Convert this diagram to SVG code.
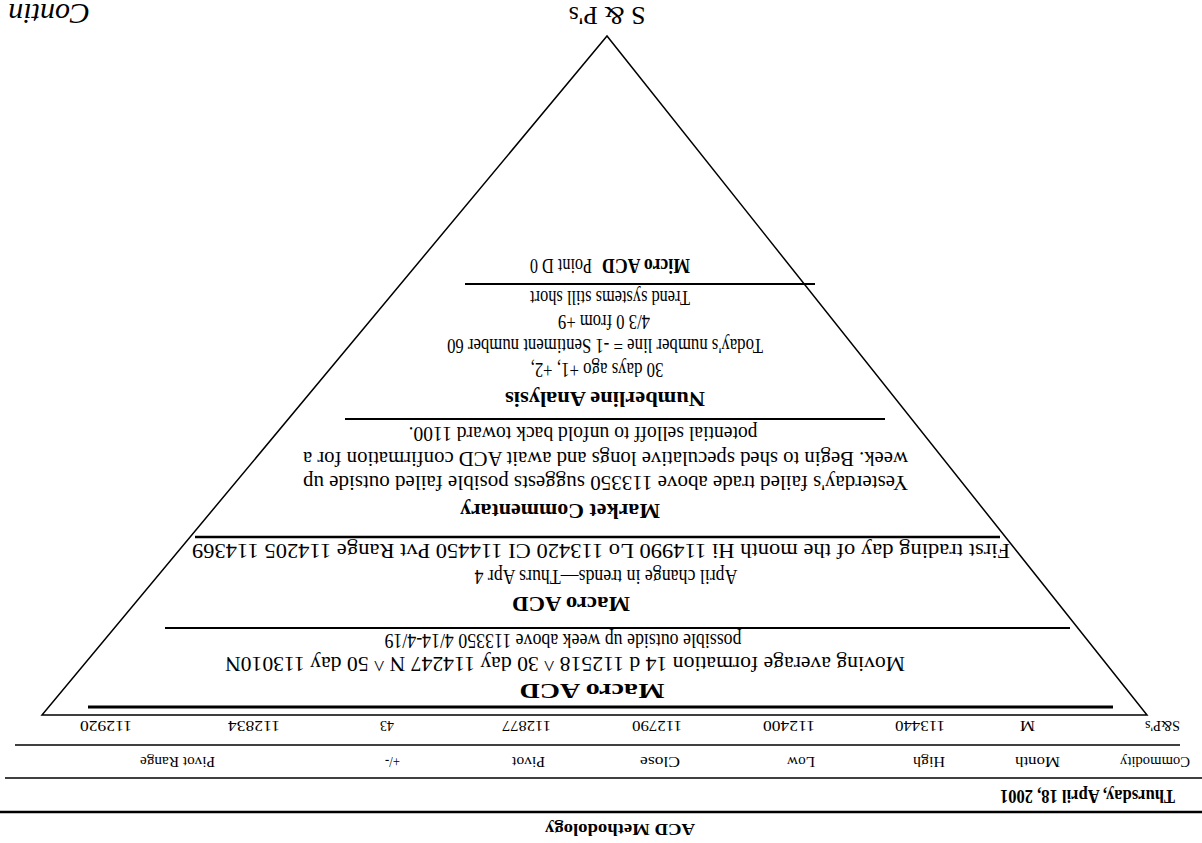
<svg xmlns="http://www.w3.org/2000/svg" width="1202" height="843" viewBox="0 0 1202 843">
<style>
text{font-family:"Liberation Serif","Times New Roman",serif;fill:#000}
.b{font-weight:bold}
.t{font-size:21px}
.h{font-size:20px;font-weight:bold}
.c{font-size:15px}
.r{stroke:#000;fill:none}
</style>
<rect width="1202" height="843" fill="#fff"/>
<g transform="rotate(180 601 421.5)">
<g id="header">
<text x="582" y="19" class="b" font-size="17" text-anchor="middle" textLength="150" lengthAdjust="spacingAndGlyphs">ACD Methodology</text>
<line x1="0" y1="31" x2="1202" y2="31" class="r" stroke-width="2.5"/>
<text x="27" y="53" class="b" font-size="19" textLength="175" lengthAdjust="spacingAndGlyphs">Thursday, April 18, 2001</text>
<line x1="0" y1="65" x2="1197" y2="65" class="r" stroke-width="1.5"/>
</g>
<g id="table">
<text class="c" x="12" y="86" textLength="70" lengthAdjust="spacingAndGlyphs">Commodity</text>
<text class="c" x="142" y="86" textLength="45" lengthAdjust="spacingAndGlyphs">Month</text>
<text class="c" x="257" y="86" textLength="32" lengthAdjust="spacingAndGlyphs">High</text>
<text class="c" x="387" y="86" textLength="28" lengthAdjust="spacingAndGlyphs">Low</text>
<text class="c" x="522" y="86" textLength="40" lengthAdjust="spacingAndGlyphs">Close</text>
<text class="c" x="657" y="86" textLength="33" lengthAdjust="spacingAndGlyphs">Pivot</text>
<text class="c" x="802" y="86" textLength="15" lengthAdjust="spacingAndGlyphs">+/-</text>
<text class="c" x="987" y="86" textLength="75" lengthAdjust="spacingAndGlyphs">Pivot Range</text>
<line x1="22" y1="98" x2="1187" y2="98" class="r" stroke-width="1.5"/>
<text class="c" x="22" y="122" textLength="35" lengthAdjust="spacingAndGlyphs">S&amp;P's</text>
<text class="c" x="167" y="122" textLength="15" lengthAdjust="spacingAndGlyphs">M</text>
<text class="c" x="257" y="122" textLength="50" lengthAdjust="spacingAndGlyphs">113440</text>
<text class="c" x="387" y="122" textLength="52" lengthAdjust="spacingAndGlyphs">112400</text>
<text class="c" x="520" y="122" textLength="50" lengthAdjust="spacingAndGlyphs">112790</text>
<text class="c" x="651" y="122" textLength="49" lengthAdjust="spacingAndGlyphs">112877</text>
<text class="c" x="808" y="122" textLength="14" lengthAdjust="spacingAndGlyphs">43</text>
<text class="c" x="922" y="122" textLength="52" lengthAdjust="spacingAndGlyphs">112834</text>
<text class="c" x="1070" y="122" textLength="52" lengthAdjust="spacingAndGlyphs">112920</text>
</g>
<g id="pyramid">
<polygon points="55,128 1160,128 595,807" class="r" stroke-width="1.5"/>
</g>
<g id="macro1">
<line x1="89" y1="136" x2="1114" y2="136" class="r" stroke-width="3"/>
<text class="h" x="610" y="159" text-anchor="middle" textLength="145" lengthAdjust="spacingAndGlyphs">Macro ACD</text>
<text class="t" x="297" y="186" textLength="680" lengthAdjust="spacingAndGlyphs">Moving average formation 14 d 112518 ^  30 day 114247 N ^  50 day 113010N</text>
<text class="t" x="639" y="209" text-anchor="middle" textLength="357" lengthAdjust="spacingAndGlyphs">possible outside up week above 113350 4/14-4/19</text>
<line x1="132" y1="215" x2="1037" y2="215" class="r" stroke-width="2"/>
</g>
<g id="macro2">
<text class="h" x="631" y="246" text-anchor="middle" textLength="118" lengthAdjust="spacingAndGlyphs">Macro ACD</text>
<text class="t" x="596" y="273" text-anchor="middle" textLength="263" lengthAdjust="spacingAndGlyphs">April change in trends—Thurs Apr 4</text>
<text class="t" x="192" y="299" textLength="818" lengthAdjust="spacingAndGlyphs">First trading day of the month Hi 114990 Lo 113420 CI 114450 Pvt Range 114205 114369</text>
<line x1="202" y1="306" x2="1007" y2="306" class="r" stroke-width="2.5"/>
</g>
<g id="market">
<text class="h" x="642" y="339" text-anchor="middle" textLength="200" lengthAdjust="spacingAndGlyphs">Market Commentary</text>
<text class="t" x="294" y="367" textLength="605" lengthAdjust="spacingAndGlyphs">Yesterday's failed trade above 113350 suggests posible failed outside up</text>
<text class="t" x="294" y="391" textLength="605" lengthAdjust="spacingAndGlyphs">week. Begin to shed speculative longs and await ACD confirmation for a</text>
<text class="t" x="619" y="416" text-anchor="middle" textLength="349" lengthAdjust="spacingAndGlyphs">potential selloff to unfold back toward 1100.</text>
<line x1="317" y1="424" x2="857" y2="424" class="r" stroke-width="2"/>
</g>
<g id="numberline">
<text class="h" x="597" y="451" text-anchor="middle" textLength="200" lengthAdjust="spacingAndGlyphs">Numberline Analysis</text>
<text class="t" x="605" y="480" text-anchor="middle" textLength="133" lengthAdjust="spacingAndGlyphs">30 days ago +1, +2,</text>
<text class="t" x="597" y="504" text-anchor="middle" textLength="316" lengthAdjust="spacingAndGlyphs">Today's number line = -1 Sentiment number 60</text>
<text class="t" x="598" y="528" text-anchor="middle" textLength="92" lengthAdjust="spacingAndGlyphs">4/3 0 from +9</text>
<text class="t" x="592" y="552" text-anchor="middle" textLength="160" lengthAdjust="spacingAndGlyphs">Trend systems still short</text>
<line x1="387" y1="559" x2="737" y2="559" class="r" stroke-width="2"/>
</g>
<g id="micro">
<text class="h" x="512" y="584" textLength="88" lengthAdjust="spacingAndGlyphs">Micro ACD</text>
<text class="t" x="610" y="584" textLength="62" lengthAdjust="spacingAndGlyphs">Point D 0</text>
</g>
<g id="footer">
<text x="595" y="836" font-size="26" text-anchor="middle">S &amp; P's</text>
<text x="1112" y="839" font-size="30" font-style="italic">Contin</text>
</g>
</g>
</svg>
